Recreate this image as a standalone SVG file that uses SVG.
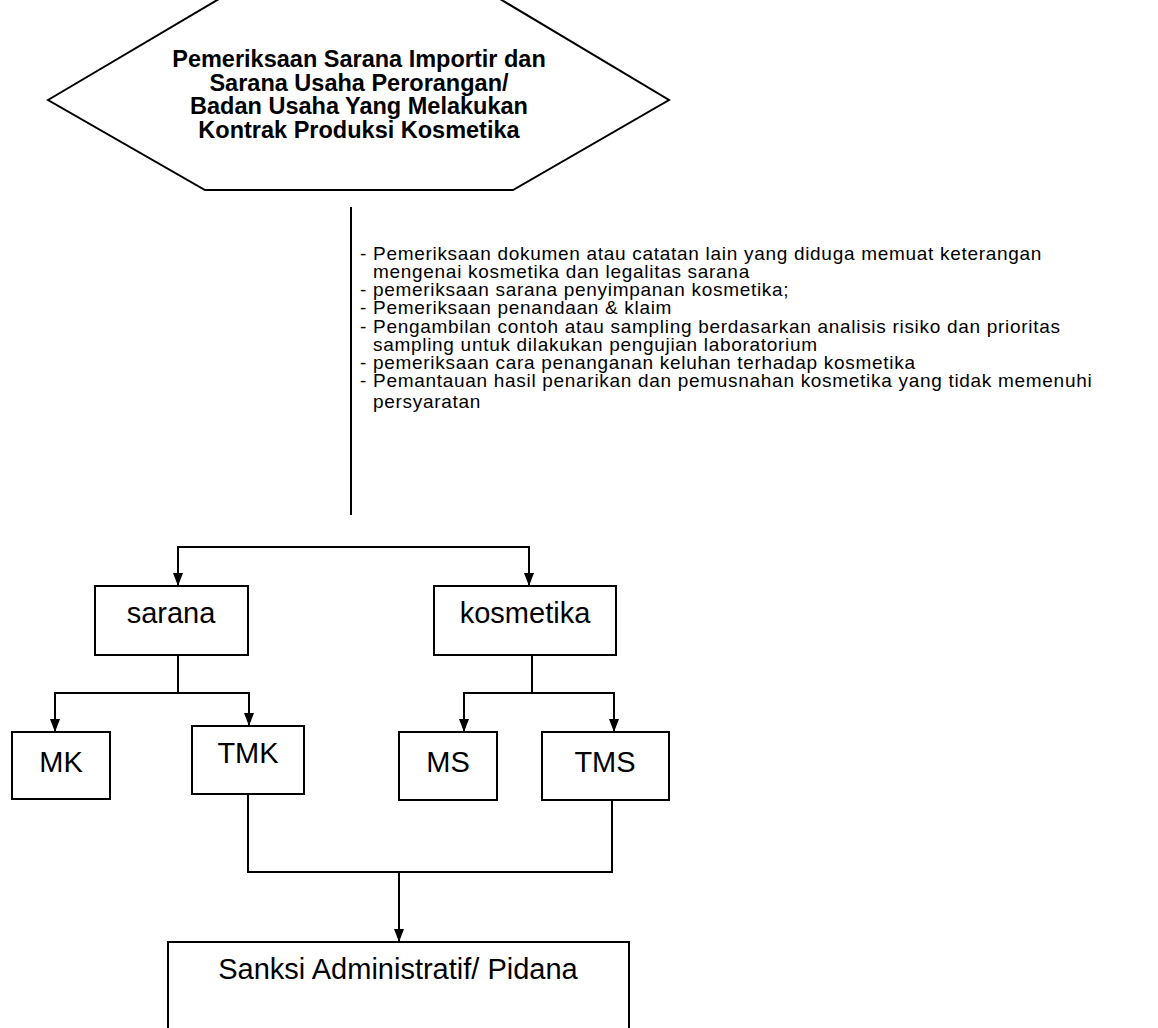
<svg xmlns="http://www.w3.org/2000/svg" width="1158" height="1028" viewBox="0 0 1158 1028">
<defs>
<marker id="arr" viewBox="0 0 13 10" refX="13" refY="5" markerWidth="13" markerHeight="10" markerUnits="userSpaceOnUse" orient="auto-start-reverse">
<path d="M0,0 L13,5 L0,10 Z" fill="#000"/>
</marker>
<style>
.shape{fill:#fff;stroke:#000;stroke-width:2}
.lbl{font-family:"Liberation Sans",Arial,sans-serif;font-size:29px;fill:#000;text-anchor:middle}
.hex{font-family:"Liberation Sans",Arial,sans-serif;font-size:23.5px;font-weight:bold;fill:#000;text-anchor:middle}
.bul{font-family:"Liberation Sans",Arial,sans-serif;font-size:19px;letter-spacing:0.7px;fill:#000}
.con{fill:none;stroke:#000;stroke-width:2}
</style>
</defs>
<rect width="1158" height="1028" fill="#fff"/>
<g id="start">
<polygon class="shape" points="48,100 224,-4 495,-4 669,100 513,190 205,190"/>
<text class="hex"><tspan x="359" y="67">Pemeriksaan Sarana Importir dan</tspan><tspan x="359" y="90.5">Sarana Usaha Perorangan/</tspan><tspan x="359" y="114">Badan Usaha Yang Melakukan</tspan><tspan x="359" y="137.5">Kontrak Produksi Kosmetika</tspan></text>
</g>
<g id="notes">
<text class="bul"><tspan x="360" y="260">- Pemeriksaan dokumen atau catatan lain yang diduga memuat keterangan</tspan><tspan x="373" y="278">mengenai kosmetika dan legalitas sarana</tspan><tspan x="360" y="296">- pemeriksaan sarana penyimpanan kosmetika;</tspan><tspan x="360" y="314">- Pemeriksaan penandaan &amp; klaim</tspan><tspan x="360" y="333">- Pengambilan contoh atau sampling berdasarkan analisis risiko dan prioritas</tspan><tspan x="373" y="351">sampling untuk dilakukan pengujian laboratorium</tspan><tspan x="360" y="369">- pemeriksaan cara penanganan keluhan terhadap kosmetika</tspan><tspan x="360" y="387">- Pemantauan hasil penarikan dan pemusnahan kosmetika yang tidak memenuhi</tspan><tspan x="373" y="408">persyaratan</tspan></text>
</g>
<g id="sarana">
<rect class="shape" x="95" y="586" width="153" height="69"/>
<text class="lbl" x="171" y="623">sarana</text>
</g>
<g id="kosmetika">
<rect class="shape" x="434" y="586" width="182" height="69"/>
<text class="lbl" x="525" y="623">kosmetika</text>
</g>
<g id="mk">
<rect class="shape" x="12" y="732" width="98" height="67"/>
<text class="lbl" x="61" y="772">MK</text>
</g>
<g id="tmk">
<rect class="shape" x="192" y="726" width="112" height="68"/>
<text class="lbl" x="248" y="763">TMK</text>
</g>
<g id="ms">
<rect class="shape" x="399" y="732" width="98" height="68"/>
<text class="lbl" x="448" y="772">MS</text>
</g>
<g id="tms">
<rect class="shape" x="542" y="732" width="127" height="68"/>
<text class="lbl" x="605" y="772">TMS</text>
</g>
<g id="sanksi">
<rect class="shape" x="168" y="942" width="461" height="100"/>
<text class="lbl" x="398" y="979">Sanksi Administratif/ Pidana</text>
</g>
<g id="connectors">
<line class="con" x1="351" y1="207" x2="351" y2="515"/>
<path class="con" d="M178,586 V547 H529 V586" marker-start="url(#arr)" marker-end="url(#arr)"/>
<path class="con" d="M178,655 V693"/>
<path class="con" d="M55,732 V693 H249 V726" marker-start="url(#arr)" marker-end="url(#arr)"/>
<path class="con" d="M532,655 V693"/>
<path class="con" d="M464,732 V693 H614 V732" marker-start="url(#arr)" marker-end="url(#arr)"/>
<path class="con" d="M248,794 V872 H612 V800"/>
<path class="con" d="M399,872 V942" marker-end="url(#arr)"/>
</g>
</svg>
